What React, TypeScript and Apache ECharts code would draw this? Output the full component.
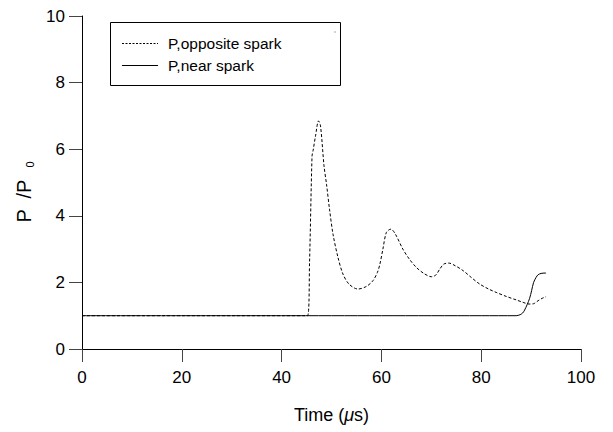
import React, { useEffect, useRef } from "react";
import * as echarts from "echarts";

const xTicks = [0, 20, 40, 60, 80, 100];
const yTicks = [0, 2, 4, 6, 8, 10];

// P, opposite spark (dashed)
const oppositeT = [0, 10, 20, 30, 40, 45.2, 45.6, 46.1, 46.3, 46.8, 47.4, 47.8, 48.5, 49.0, 49.6, 50.3, 51.3, 52.3, 53.5, 55.3, 57.0, 58.3, 59.2, 59.7, 60.3, 61.0, 61.9, 62.8, 64.3, 65.6, 67.0, 68.5, 70.0, 70.9, 71.7, 72.5, 73.5, 74.8, 76.4, 78.0, 79.7, 81.5, 83.0, 85.0, 87.1, 88.4, 89.6, 90.5, 91.4, 92.2, 93.0];
const oppositeP = [1.0, 1.0, 1.0, 1.0, 1.0, 1.0, 2.6, 5.8, 5.95, 6.4, 6.85, 6.7, 5.5, 4.95, 4.2, 3.45, 2.75, 2.25, 1.95, 1.8, 1.88, 2.05, 2.3, 2.55, 3.0, 3.5, 3.6, 3.45, 3.0, 2.7, 2.45, 2.27, 2.17, 2.22, 2.4, 2.55, 2.58, 2.5, 2.35, 2.15, 1.95, 1.8, 1.7, 1.58, 1.47, 1.4, 1.35, 1.36, 1.45, 1.52, 1.57];

// P, near spark (solid)
const nearT = [0, 20, 40, 60, 80, 87.0, 87.8, 88.3, 88.7, 89.2, 89.7, 90.1, 90.5, 91.0, 91.4, 92.0, 92.8, 93.0];
const nearP = [1.0, 1.0, 1.0, 1.0, 1.0, 1.0, 1.03, 1.08, 1.17, 1.33, 1.52, 1.75, 2.0, 2.15, 2.23, 2.27, 2.28, 2.28];

const legendLabels = ["P,opposite spark", "P,near spark"];

export default function App() {
  const ref = useRef<HTMLDivElement>(null);
  useEffect(() => {
    if (!ref.current) return;
    const chart = echarts.init(ref.current, null, { renderer: "svg" });
    const font = "Liberation Sans, Arial, sans-serif";
    chart.setOption({
      animation: false,
      backgroundColor: "#fff",
      grid: { left: 82, right: 32, top: 16, bottom: 83, containLabel: false },
      xAxis: {
        type: "value",
        min: 0,
        max: 100,
        interval: 20,
        name: "Time ({i|μ}s)",
        nameLocation: "middle",
        nameGap: 57,
        nameTextStyle: {
          fontSize: 18,
          color: "#000",
          fontFamily: font,
          rich: { i: { fontSize: 18, fontStyle: "italic", color: "#000", fontFamily: font } },
        },
        axisLine: { show: true, lineStyle: { color: "#000", width: 1 } },
        axisTick: { show: true, inside: false, length: 13, lineStyle: { color: "#444", width: 1 } },
        axisLabel: { fontSize: 17, color: "#000", fontFamily: font, margin: 20 },
        splitLine: { show: false },
      },
      yAxis: {
        type: "value",
        min: 0,
        max: 10,
        interval: 2,
        axisLine: { show: true, lineStyle: { color: "#000", width: 1 } },
        axisTick: { show: true, inside: false, length: 13, lineStyle: { color: "#444", width: 1 } },
        axisLabel: { fontSize: 17, color: "#000", fontFamily: font, margin: 17 },
        splitLine: { show: false },
      },
      series: [
        {
          name: legendLabels[1],
          type: "line",
          data: nearT.map((t, i) => [t, nearP[i]]),
          showSymbol: false,
          smooth: 0.3,
          lineStyle: { color: "#000", width: 1 },
          z: 2,
        },
        {
          name: legendLabels[0],
          type: "line",
          data: oppositeT.map((t, i) => [t, oppositeP[i]]),
          showSymbol: false,
          smooth: 0.3,
          lineStyle: { color: "#000", width: 1, type: [3, 2] },
          z: 3,
        },
      ],
      graphic: [
        {
          type: "text",
          x: 24,
          y: 192,
          rotation: Math.PI / 2,
          style: {
            text: "P  /P{s|0}",
            fill: "#000",
            fontSize: 20,
            fontFamily: font,
            align: "center",
            verticalAlign: "middle",
            rich: { s: { fontSize: 11, padding: [12, 0, 0, 12], fill: "#000", fontFamily: font } },
          },
        },
        {
          type: "rect",
          shape: { x: 110.5, y: 22.5, width: 230, height: 63 },
          style: { fill: "#fff", stroke: "#000", lineWidth: 1 },
          z: 10,
        },
        {
          type: "line",
          shape: { x1: 122, y1: 43.5, x2: 158, y2: 43.5 },
          style: { stroke: "#000", lineWidth: 1, lineDash: [2, 1.5] },
          z: 11,
        },
        {
          type: "line",
          shape: { x1: 122, y1: 65.5, x2: 158, y2: 65.5 },
          style: { stroke: "#000", lineWidth: 1 },
          z: 11,
        },
        {
          type: "text",
          x: 168,
          y: 43,
          style: { text: legendLabels[0], fill: "#000", fontSize: 15.5, fontFamily: font, verticalAlign: "middle" },
          z: 11,
        },
        {
          type: "text",
          x: 168,
          y: 65,
          style: { text: legendLabels[1], fill: "#000", fontSize: 15.5, fontFamily: font, verticalAlign: "middle" },
          z: 11,
        },
        {
          type: "rect",
          shape: { x: 334.5, y: 31.5, width: 1, height: 1 },
          style: { fill: "#555" },
          z: 11,
        },
      ],
    });
    return () => chart.dispose();
  }, []);
  return <div ref={ref} style={{ position: "fixed", left: 0, top: 0, width: 613, height: 432 }} />;
}
